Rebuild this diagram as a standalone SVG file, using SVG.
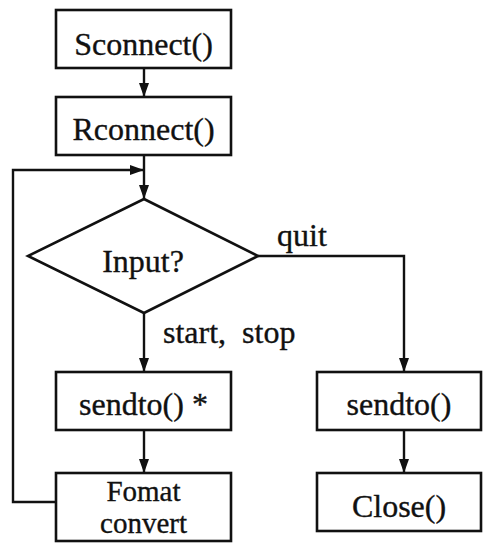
<svg xmlns="http://www.w3.org/2000/svg" width="483" height="544" viewBox="0 0 483 544">
  <style>
    .box { fill: #ffffff; stroke: #111111; stroke-width: 2.6; }
    .label { font-family: "Liberation Serif", "Times New Roman", serif; font-size: 32px; fill: #111111; stroke: #111111; stroke-width: 0.35; text-anchor: middle; }
    .label.small { font-size: 29px; }
    .note { font-family: "Liberation Serif", "Times New Roman", serif; font-size: 32px; fill: #111111; stroke: #111111; stroke-width: 0.35; white-space: pre; }
    .wire { fill: none; stroke: #111111; stroke-width: 2.4; }
  </style>
  <defs>
    <marker id="arrow" viewBox="0 0 14 10" refX="14" refY="5" markerWidth="14" markerHeight="10" markerUnits="userSpaceOnUse" orient="auto">
      <path d="M0,0 L14,5 L0,10 Z" fill="#111111"/>
    </marker>
  </defs>
  <rect width="483" height="544" fill="#ffffff"/>

  <g id="connectors">
    <line class="wire" x1="144" y1="68" x2="144" y2="97" marker-end="url(#arrow)"/>
    <line class="wire" x1="144" y1="155" x2="144" y2="199" marker-end="url(#arrow)"/>
    <polyline class="wire" points="56,502 13,502 13,170 144,170" marker-end="url(#arrow)"/>
    <line class="wire" x1="144" y1="313" x2="144" y2="372" marker-end="url(#arrow)"/>
    <line class="wire" x1="144" y1="430" x2="144" y2="473" marker-end="url(#arrow)"/>
    <polyline class="wire" points="258,256 404,256 404,372" marker-end="url(#arrow)"/>
    <line class="wire" x1="404" y1="430" x2="404" y2="473" marker-end="url(#arrow)"/>
    <text class="note" x="277" y="246">quit</text>
    <text class="note" x="163" y="343">start,  stop</text>
  </g>

  <g id="sconnect">
    <rect class="box" x="56" y="10" width="175" height="58"/>
    <text class="label" x="143.5" y="55">Sconnect()</text>
  </g>
  <g id="rconnect">
    <rect class="box" x="56" y="97" width="175" height="58"/>
    <text class="label" x="143.5" y="140">Rconnect()</text>
  </g>
  <g id="input">
    <polygon class="box" points="144,199 258,256 144,313 28,256"/>
    <text class="label" x="143" y="272">Input?</text>
  </g>
  <g id="sendto-loop">
    <rect class="box" x="56" y="372" width="175" height="58"/>
    <text class="label" x="143.5" y="415">sendto() *</text>
  </g>
  <g id="format-convert">
    <rect class="box" x="56" y="473" width="175" height="68"/>
    <text class="label small" x="143.5" y="501">Fomat</text>
    <text class="label small" x="143.5" y="533">convert</text>
  </g>
  <g id="sendto-quit">
    <rect class="box" x="317" y="372" width="164" height="58"/>
    <text class="label" x="399" y="415">sendto()</text>
  </g>
  <g id="close">
    <rect class="box" x="317" y="473" width="164" height="58"/>
    <text class="label" x="399" y="517">Close()</text>
  </g>
</svg>
